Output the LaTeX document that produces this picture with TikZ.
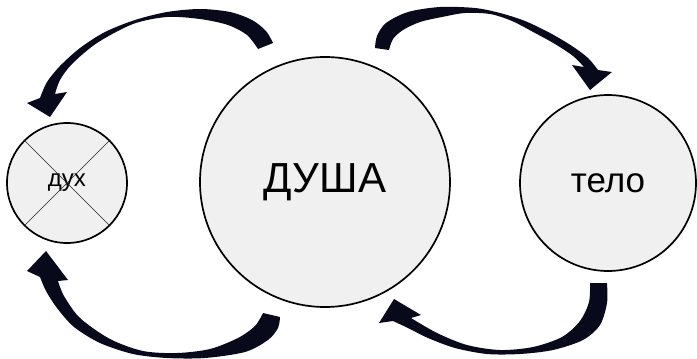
\documentclass[tikz,border=0pt]{standalone}
\usepackage{fontspec}
\setmainfont{Liberation Sans}
\definecolor{soulfill}{RGB}{240,240,240}
\definecolor{arrowcol}{RGB}{8,10,28}

\begin{document}
\begin{tikzpicture}[
    x=1pt, y=-1pt,
    circ/.style={circle, draw=black, line width=1.7pt, fill=soulfill, inner sep=0pt, minimum size=#1},
    taper/.style={fill=arrowcol, draw=none},
    cross/.style={line width=0.7pt, draw=black!85}
]
\useasboundingbox (0,0) rectangle (697,359);

\node[circ=120pt, font=\fontsize{24}{24}\selectfont] (dukh)  at (67,183)  {дух};
\node[circ=250pt, font=\fontsize{42}{42}\selectfont] (dusha) at (325,182) {ДУША};
\node[circ=176pt, font=\fontsize{35}{35}\selectfont] (telo)  at (608,183) {тело};

% crossed out
\draw[cross] (dukh.north west) -- (dukh.south east);
\draw[cross] (dukh.north east) -- (dukh.south west);

% top left: soul -> spirit
\fill[taper] plot[smooth] coordinates {(273,43) (266,31) (252,20) (230,12) (200,9) (167,12) (135,20) (105,32) (80,48) (60,66) (47,82) (40,98)}
    -- (27,103) -- (50,117) -- (67,92)
    -- plot[smooth] coordinates {(55,94) (60,80) (72,64) (97,43) (133,24) (167,17) (200,19) (228,25) (247,35) (258,49)} -- cycle;

% top right: soul -> body
\fill[taper] plot[smooth] coordinates {(375,48) (377,36) (386,23) (408,12) (440,7) (475,8) (500,13) (525,21) (550,33) (572,46) (588,58) (598,70)}
    -- (612,72) -- (590,90) -- (572,65)
    -- plot[smooth] coordinates {(584,67) (573,56) (555,44) (535,33) (512,21) (490,14) (465,13) (442,17) (420,22) (403,30) (393,39) (389,50)} -- cycle;

% bottom left: soul -> spirit
\fill[taper] plot[smooth] coordinates {(280,317) (278,328) (268,340) (245,352) (205,358) (167,358) (133,354) (100,343) (74,327) (57,308) (46,291) (40,277)}
    -- (27,271) -- (46,251) -- (68,280)
    -- plot[smooth] coordinates {(58,281) (64,296) (80,318) (110,339) (143,351) (177,353) (210,349) (238,338) (255,326) (263,313)} -- cycle;

% bottom right: body -> soul
\fill[taper] plot[smooth] coordinates {(607,283) (607,303) (600,325) (583,340) (553,350) (520,354) (487,354) (455,348) (428,338) (408,328) (393,321)}
    -- (379,323) -- (394,299) -- (421,315)
    -- plot[smooth] coordinates {(411,318) (437,333) (467,345) (500,350) (533,347) (562,337) (580,321) (589,302) (590,283)} -- cycle;
\end{tikzpicture}
\end{document}
